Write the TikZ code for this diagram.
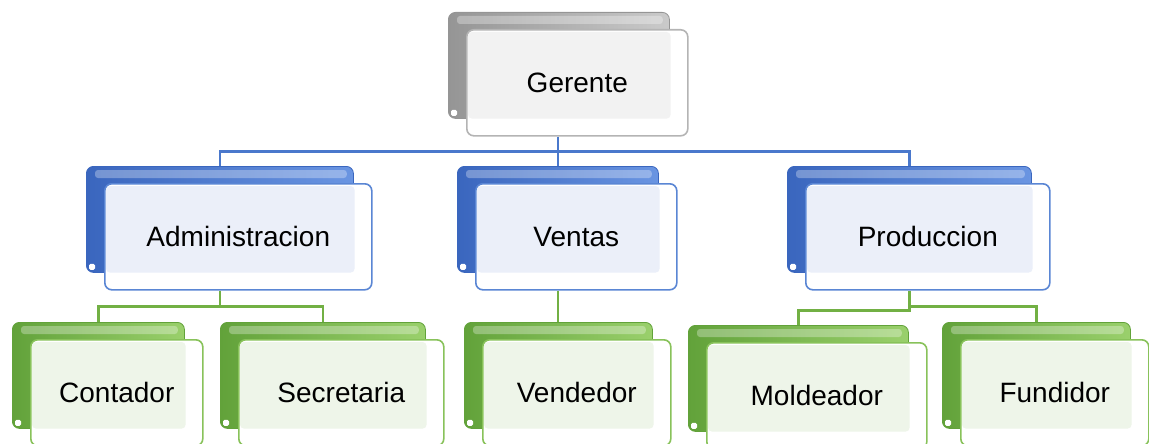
\documentclass[tikz,border=0pt]{standalone}
\usepackage{fontspec}
\setmainfont{Liberation Sans}
\definecolor{bludark}{HTML}{3A66BE}
\definecolor{blumid}{HTML}{6A95E2}
\definecolor{bluedge}{HTML}{5A86D4}
\definecolor{bluin}{HTML}{EBEFF9}
\definecolor{grndark}{HTML}{62A23A}
\definecolor{grnmid}{HTML}{9AD06C}
\definecolor{grnedge}{HTML}{88C25A}
\definecolor{grnin}{HTML}{EEF5E9}
\definecolor{grydark}{HTML}{959595}
\definecolor{grymid}{HTML}{CACACA}
\definecolor{gryedge}{HTML}{B4B4B4}
\definecolor{gryin}{HTML}{F2F2F2}
\definecolor{blueline}{HTML}{4A78CC}
\definecolor{greenline}{HTML}{72B044}
\tikzset{
  backbox/.style={rectangle, rounded corners=7pt, inner sep=0pt, left color=#1dark, right color=#1mid, draw=#1dark, line width=.8pt},
  frontbox/.style={rectangle, rounded corners=7pt, inner sep=0pt, fill=white, draw=#1edge, line width=1.6pt},
  lbl/.style={font=\fontsize{28}{34}\selectfont, text=black, inner sep=0pt},
  bconn/.style={draw=blueline, line width=2.4pt},
  gconn/.style={draw=greenline, line width=2.4pt}
}
\newcommand\orgbox[7]{%
  \node[backbox=#2, minimum width=#5pt, minimum height=#6pt, anchor=north west] (#1-b) at (#3,#4) {};
  \fill[white, opacity=.3, rounded corners=3pt] ([xshift=9pt,yshift=-4pt]#1-b.north west) rectangle ([xshift=-7pt,yshift=-12pt]#1-b.north east);
  \fill[white, rounded corners=1.5pt] ([xshift=3pt,yshift=3pt]#1-b.south west) rectangle ++(6pt,6pt);
  \node[frontbox=#2, minimum width=#5pt, minimum height=#6pt, anchor=north west] (#1) at ([xshift=18pt,yshift=-17pt]#1-b.north west) {};
  \fill[#2in, rounded corners=4pt] ([xshift=2pt,yshift=-3pt]#1.north west) rectangle ([xshift=-18pt,yshift=18pt]#1.south east);
  \node[lbl] (#1-t) at (#1) {#7};
}
\begin{document}
\begin{tikzpicture}[x=1pt, y=-1pt]
\useasboundingbox (0,0) rectangle (1149,444);
\orgbox{ger}{gry}{448}{12}{221}{106}{Gerente}
\orgbox{adm}{blu}{86}{166}{267}{106}{Administracion}
\orgbox{ven}{blu}{457}{166}{201}{106}{Ventas}
\orgbox{pro}{blu}{787}{166}{244}{106}{Produccion}
\orgbox{con}{grn}{12}{322}{172}{106}{Contador}
\orgbox{sec}{grn}{220}{322}{205}{106}{Secretaria}
\orgbox{vdd}{grn}{464}{322}{188}{106}{Vendedor}
\orgbox{mol}{grn}{688}{325}{220}{106}{Moldeador}
\orgbox{fun}{grn}{942}{322}{188}{106}{Fundidor}
% blue connectors
\draw[bconn] (ven-b.north |- ger.south) -- ++(0,15) coordinate (gj) -| (adm-b.north);
\draw[bconn] (gj) -| (pro-b.north);
\draw[bconn] (gj) -- (ven-b.north);
% green connectors
\draw[gconn] (adm-b.south |- adm.south) -- ++(0,16) coordinate (aj) -| (con-b.north);
\draw[gconn] (aj) -| (sec-b.north);
\draw[gconn] (ven-b.south |- ven.south) -- (ven-b.south |- vdd-b.north);
\draw[gconn] (pro-b.south |- pro.south) -- ++(0,16) coordinate (pj) -| (fun-b.north);
\draw[gconn] (pj) -- ++(0,4) -| (mol-b.north);
\end{tikzpicture}
\end{document}
